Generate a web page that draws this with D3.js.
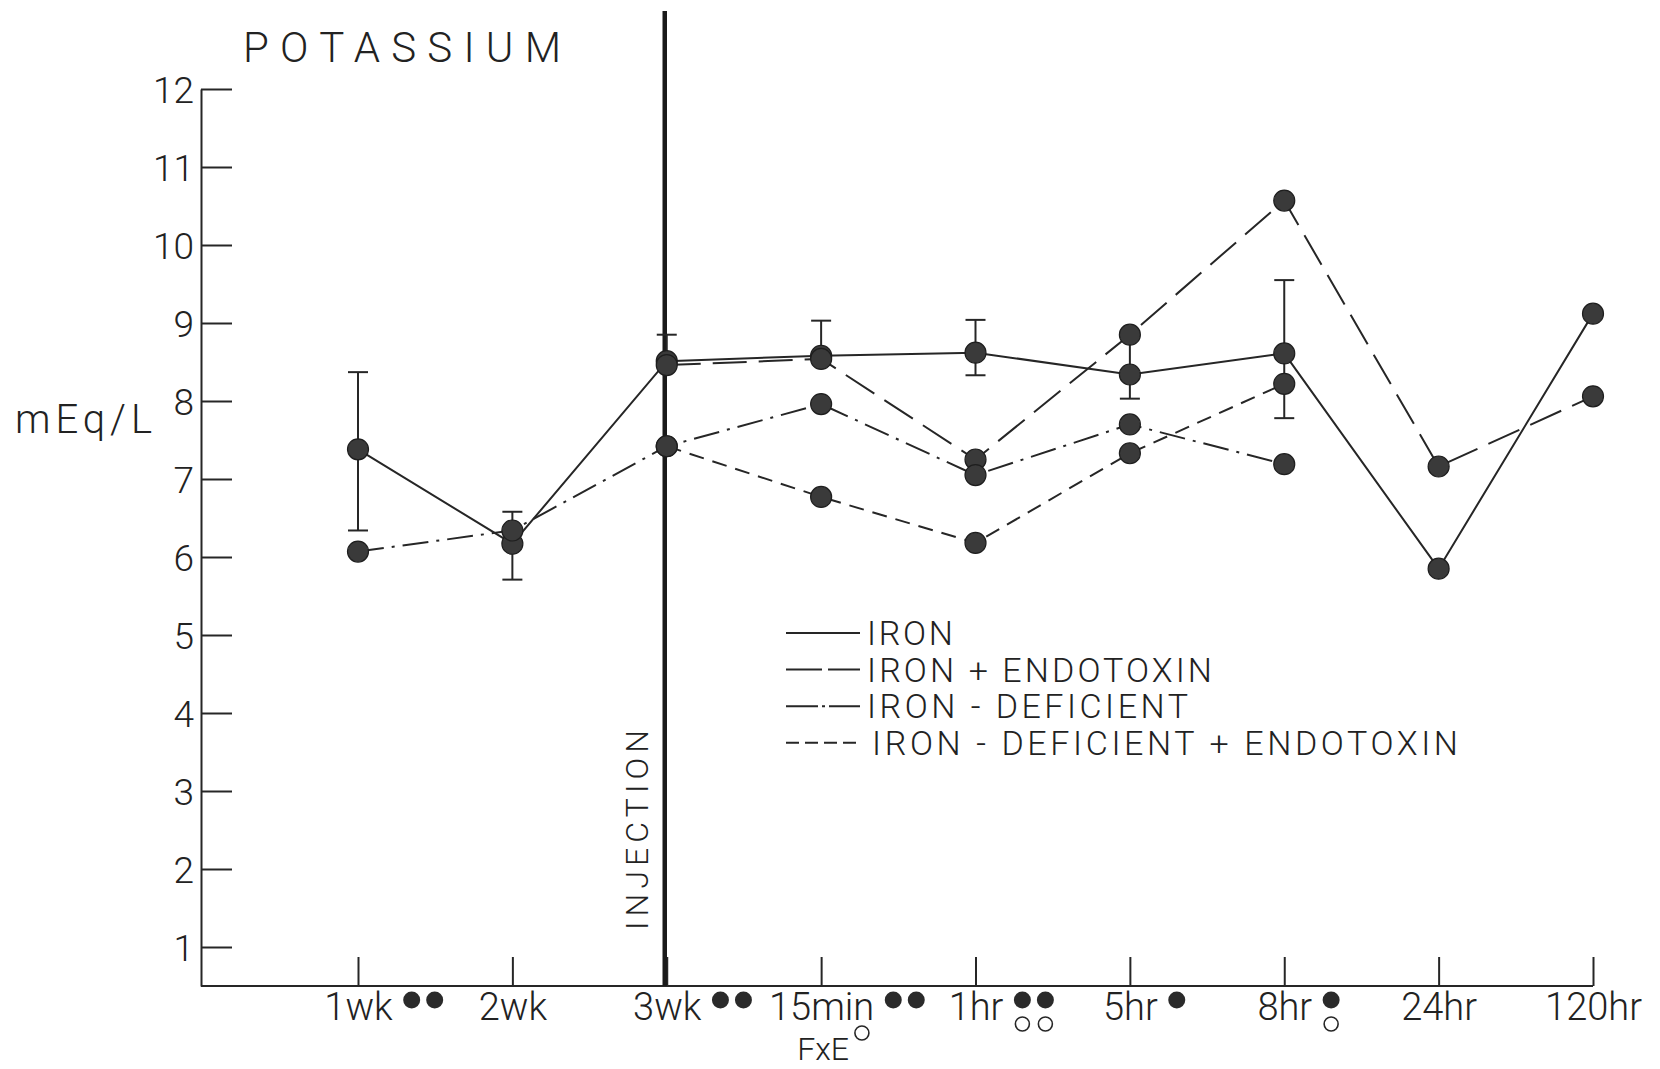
<!DOCTYPE html>
<html>
<head>
<meta charset="utf-8">
<script src="https://cdn.jsdelivr.net/npm/d3@7"></script>
<style>
  html, body { margin: 0; padding: 0; background: #fff; }
  svg text { font-family: Roboto, "DejaVu Sans", sans-serif; font-weight: 300; fill: #222; }
</style>
</head>
<body>
<div id="chart"></div>
<script>
// ---- data ----
const categories = ['1wk', '2wk', '3wk', '15min', '1hr', '5hr', '8hr', '24hr', '120hr'];
const yTickValues = [1, 2, 3, 4, 5, 6, 7, 8, 9, 10, 11, 12];

const iron        = [7.38, 6.17, 8.51, 8.58, 8.62, 8.34, 8.61, 5.85, 9.12];
const ironEndo    = [null, null, 8.46, 8.54, 7.25, 8.85, 10.57, 7.16, 8.06];
const ironDef     = [6.07, 6.34, 7.42, 7.96, 7.05, 7.70, 7.19, null, null];
const ironDefEndo = [null, null, 7.42, 6.77, 6.18, 7.33, 8.22, null, null];

// error bars on the IRON series (null = end hidden)
const errLow  = [6.34, 5.71, null, null, 8.33, 8.03, 7.78, null, null];
const errHigh = [8.37, 6.58, 8.85, 9.03, 9.04, 8.85, 9.55, null, null];

// significance marks under the time labels
const sigFilled = [2, 0, 2, 2, 2, 1, 1, 0, 0];
const sigOpen   = [0, 0, 0, 0, 2, 0, 1, 0, 0];

const seriesNames = ['IRON', 'IRON + ENDOTOXIN', 'IRON - DEFICIENT', 'IRON - DEFICIENT + ENDOTOXIN'];

// ---- layout ----
const W = 1660, H = 1069;
const ink = '#262626';
const dashes = [null, '34,12', '26,8,3,8', '15,9'];
const legendDashes = [null, '36,6', '32,4,3,4', '13,6'];
const legendWidths = [86, 345, 321, 586];

const svg = d3.select('#chart').append('svg')
  .attr('width', W).attr('height', H)
  .style('background', '#fff');

const x = d3.scalePoint().domain(categories).range([358, 1593]);
const y = d3.scaleLinear().domain([0.5, 12]).range([986, 89]);
const x0 = 201;

/* ----------y axis------------*/
const yAxis = d3.axisLeft(y).tickValues(yTickValues).tickSize(-31).tickSizeOuter(0).tickPadding(7);
const gy = svg.append('g').attr('transform', `translate(${x0},0)`).call(yAxis);
gy.select('.domain').attr('stroke', ink).attr('stroke-width', 2);
gy.selectAll('.tick line').attr('stroke', ink).attr('stroke-width', 2);
gy.selectAll('.tick text')
  .attr('font-size', 37).attr('font-family', null).attr('fill', ink).attr('dy', '0.36em');

/* ----------x axis------------*/
const xAxis = d3.axisBottom(x).tickSize(-29).tickSizeOuter(0).tickPadding(7);
const gx = svg.append('g').attr('transform', `translate(0,${y(0.5)})`).call(xAxis);
gx.select('.domain').remove();
gx.append('line').attr('x1', x0).attr('x2', x(categories[categories.length - 1]))
  .attr('stroke', ink).attr('stroke-width', 2);
gx.selectAll('.tick line').attr('stroke', ink).attr('stroke-width', 2);
gx.selectAll('.tick text')
  .attr('font-size', 38).attr('font-family', null).attr('fill', ink);

// dots after tick labels
gx.selectAll('.tick').each(function(d, i) {
  const t = d3.select(this).select('text');
  const half = t.node().getComputedTextLength() / 2;
  for (let k = 0; k < sigFilled[i]; k++) {
    d3.select(this).append('circle')
      .attr('cx', half + 19 + k * 23).attr('cy', 14).attr('r', 8.5)
      .attr('fill', '#2a2a2a');
  }
  for (let k = 0; k < sigOpen[i]; k++) {
    d3.select(this).append('circle')
      .attr('cx', half + 19 + k * 23).attr('cy', 38).attr('r', 7)
      .attr('fill', 'none').attr('stroke', ink).attr('stroke-width', 1.6);
  }
});

// FxE ° note under 15min
const fxe = svg.append('text')
  .attr('x', x('15min') - 24).attr('y', 1060)
  .attr('font-size', 32).text('FxE');
const fxeEnd = x('15min') - 24 + fxe.node().getComputedTextLength();
svg.append('circle').attr('cx', fxeEnd + 13).attr('cy', 1033).attr('r', 7)
  .attr('fill', 'none').attr('stroke', ink).attr('stroke-width', 1.6);

/* ----------injection line------------*/
svg.append('line')
  .attr('x1', x('3wk') - 2).attr('x2', x('3wk') - 2)
  .attr('y1', 11).attr('y2', y(0.5))
  .attr('stroke', '#1a1a1a').attr('stroke-width', 4.5);

svg.append('text')
  .attr('transform', `translate(648,930) rotate(-90)`)
  .attr('font-size', 32)
  .attr('textLength', 200).attr('lengthAdjust', 'spacing')
  .text('INJECTION');

/* ----------series lines------------*/
const allSeries = [iron, ironEndo, ironDef, ironDefEndo];
const line = d3.line()
  .defined(d => d.v !== null)
  .x(d => x(d.c))
  .y(d => y(d.v));

allSeries.forEach((vals, s) => {
  const pts = vals.map((v, i) => ({ c: categories[i], v: v }));
  svg.append('path')
    .datum(pts)
    .attr('d', line)
    .attr('fill', 'none')
    .attr('stroke', ink)
    .attr('stroke-width', 2)
    .attr('stroke-dasharray', dashes[s]);
});

/* ----------error bars------------*/
const eg = svg.append('g').attr('stroke', ink).attr('stroke-width', 2);
categories.forEach((c, i) => {
  if (errHigh[i] === null && errLow[i] === null) return;
  const cx = x(c);
  const top = errHigh[i] !== null ? errHigh[i] : iron[i];
  const bot = errLow[i] !== null ? errLow[i] : iron[i];
  eg.append('line').attr('x1', cx).attr('x2', cx).attr('y1', y(top)).attr('y2', y(bot));
  if (errHigh[i] !== null) {
    eg.append('line').attr('x1', cx - 10).attr('x2', cx + 10).attr('y1', y(top)).attr('y2', y(top));
  }
  if (errLow[i] !== null) {
    eg.append('line').attr('x1', cx - 10).attr('x2', cx + 10).attr('y1', y(bot)).attr('y2', y(bot));
  }
});

/* ----------points------------*/
allSeries.forEach(vals => {
  svg.append('g').selectAll('circle')
    .data(vals.map((v, i) => ({ c: categories[i], v: v })).filter(d => d.v !== null))
    .enter().append('circle')
    .attr('cx', d => x(d.c))
    .attr('cy', d => y(d.v))
    .attr('r', 10.5)
    .attr('fill', '#3a3a3a')
    .attr('stroke', '#1e1e1e')
    .attr('stroke-width', 1.2);
});

/* ----------legend------------*/
const lg = svg.append('g');
seriesNames.forEach((name, s) => {
  const base = 645 + s * 36.6;
  lg.append('line')
    .attr('x1', 786).attr('x2', 860)
    .attr('y1', base - 12).attr('y2', base - 12)
    .attr('stroke', ink).attr('stroke-width', 2)
    .attr('stroke-dasharray', legendDashes[s]);
  lg.append('text')
    .attr('x', s === 3 ? 872 : 867).attr('y', base)
    .attr('font-size', 34)
    .attr('textLength', legendWidths[s]).attr('lengthAdjust', 'spacing')
    .text(name);
});

/* ----------titles------------*/
svg.append('text')
  .attr('x', 243).attr('y', 62)
  .attr('font-size', 42)
  .attr('textLength', 318).attr('lengthAdjust', 'spacing')
  .text('POTASSIUM');

svg.append('text')
  .attr('x', 15).attr('y', 433)
  .attr('font-size', 40)
  .attr('textLength', 137).attr('lengthAdjust', 'spacing')
  .text('mEq/L');
</script>
</body>
</html>
